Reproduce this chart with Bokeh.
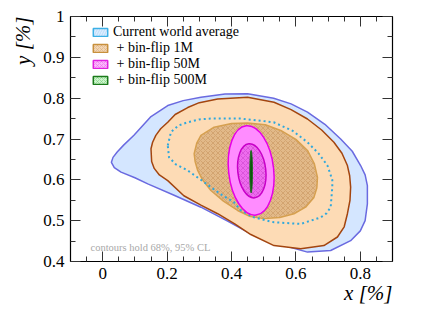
from bokeh.plotting import figure
from bokeh.models import Range1d, LinearAxis, FixedTicker, Label, Legend, LegendItem, Title
from bokeh.embed import file_html
from bokeh.resources import INLINE

# ---------------- data ----------------
# Current world average, 95% CL contour
wa95_x = [0.027, 0.036, 0.057, 0.100, 0.140, 0.220, 0.305, 0.385, 0.460, 0.515, 0.563, 0.636, 0.708,
          0.770, 0.800, 0.815, 0.822, 0.822, 0.815, 0.801, 0.775, 0.739, 0.690, 0.636, 0.585, 0.531,
          0.450, 0.380, 0.305, 0.250, 0.202, 0.150, 0.097, 0.065, 0.045, 0.032]
wa95_y = [0.643, 0.630, 0.619, 0.605, 0.590, 0.563, 0.533, 0.500, 0.468, 0.450, 0.439, 0.423, 0.427,
          0.451, 0.475, 0.500, 0.541, 0.586, 0.612, 0.635, 0.670, 0.700, 0.736, 0.766, 0.786, 0.800,
          0.811, 0.810, 0.802, 0.794, 0.782, 0.755, 0.709, 0.685, 0.668, 0.655]
# Current world average, 68% CL contour (dotted)
wa68_x = [0.202, 0.212, 0.235, 0.264, 0.300, 0.336, 0.429, 0.531, 0.590, 0.636, 0.670, 0.698, 0.713,
          0.713, 0.708, 0.695, 0.677, 0.615, 0.532, 0.470, 0.429, 0.408, 0.370, 0.336, 0.300, 0.264,
          0.227, 0.206, 0.202]
wa68_y = [0.684, 0.717, 0.733, 0.741, 0.748, 0.750, 0.750, 0.741, 0.720, 0.692, 0.665, 0.635, 0.600,
          0.582, 0.533, 0.518, 0.508, 0.492, 0.496, 0.508, 0.525, 0.545, 0.563, 0.582, 0.603, 0.623,
          0.638, 0.655, 0.684]
# + bin-flip 1M, 95% CL
bf1m95_x = [0.150, 0.152, 0.160, 0.176, 0.202, 0.252, 0.305, 0.357, 0.410, 0.460, 0.532, 0.615, 0.687,
            0.729, 0.750, 0.760, 0.768, 0.770, 0.767, 0.760, 0.743, 0.718, 0.680, 0.636, 0.585, 0.532,
            0.450, 0.357, 0.300, 0.264, 0.225, 0.202, 0.180, 0.165, 0.155]
bf1m95_y = [0.676, 0.645, 0.628, 0.612, 0.598, 0.561, 0.538, 0.517, 0.492, 0.466, 0.439, 0.431, 0.439,
            0.460, 0.485, 0.517, 0.550, 0.582, 0.610, 0.635, 0.665, 0.692, 0.722, 0.749, 0.772, 0.790,
            0.802, 0.798, 0.789, 0.777, 0.760, 0.741, 0.725, 0.709, 0.692]
# + bin-flip 1M, 68% CL
bf1m68_x = [0.284, 0.292, 0.305, 0.346, 0.400, 0.450, 0.505, 0.553, 0.600, 0.636, 0.657, 0.667, 0.665,
            0.656, 0.630, 0.594, 0.550, 0.501, 0.455, 0.419, 0.375, 0.336, 0.310, 0.295, 0.287]
bf1m68_y = [0.664, 0.690, 0.709, 0.729, 0.738, 0.739, 0.735, 0.721, 0.699, 0.672, 0.640, 0.606, 0.580,
            0.557, 0.533, 0.517, 0.508, 0.505, 0.511, 0.525, 0.548, 0.574, 0.600, 0.623, 0.645]
# + bin-flip 50M, 95% / 68% CL (ellipses): centre, full widths, full heights, tilt [rad]
bf50m_cx = [0.461, 0.463]
bf50m_cy = [0.623, 0.622]
bf50m_w = [0.140, 0.087]
bf50m_h = [0.220, 0.133]
bf50m_tilt = [0.11, 0.11]
# + bin-flip 500M (ellipse)
bf500m_cx = [0.461]
bf500m_cy = [0.620]
bf500m_w = [0.008]
bf500m_h = [0.104]

x_ticks = [0.0, 0.2, 0.4, 0.6, 0.8]
x_tick_labels = ["0", "0.2", "0.4", "0.6", "0.8"]
x_minor = [round(-0.1 + 0.05 * i, 2) for i in range(21)]
y_ticks = [0.4, 0.5, 0.6, 0.7, 0.8, 0.9, 1.0]
y_tick_labels = ["0.4", "0.5", "0.6", "0.7", "0.8", "0.9", "1"]
y_minor = [round(0.4 + 0.05 * i, 2) for i in range(13)]

x_title = "x [%]"
y_title = "y [%]"
legend_labels = ["Current world average", "\u00a0+ bin-flip 1M", "\u00a0+ bin-flip 50M", "\u00a0+ bin-flip 500M"]
note_text = "contours hold 68%, 95% CL"

# ---------------- figure ----------------
SERIF = "Liberation Serif"
p = figure(width=436, height=315, x_range=Range1d(-0.1, 0.9), y_range=Range1d(0.4, 1.0),
           output_backend="svg", toolbar_location=None,
           min_border_left=70, min_border_right=44, min_border_top=16, min_border_bottom=54)
p.grid.visible = False
p.outline_line_color = "black"
p.outline_line_width = 1.2
p.background_fill_color = "white"
p.border_fill_color = "white"

p.add_layout(LinearAxis(), "above")
p.add_layout(LinearAxis(), "right")

for ax in p.xaxis:
    ax.ticker = FixedTicker(ticks=x_ticks, minor_ticks=x_minor)
    ax.major_label_overrides = dict(zip(x_ticks, x_tick_labels))
for ax in p.yaxis:
    ax.ticker = FixedTicker(ticks=y_ticks, minor_ticks=y_minor)
    ax.major_label_overrides = dict(zip(y_ticks, y_tick_labels))
for ax in p.axis:
    ax.major_tick_in = 10
    ax.major_tick_out = 0
    ax.minor_tick_in = 5
    ax.minor_tick_out = 0
    ax.axis_line_color = "black"
    ax.major_tick_line_color = "#333333"
    ax.minor_tick_line_color = "#333333"
    ax.major_label_text_font = SERIF
    ax.major_label_text_font_size = "17px"
    ax.major_label_text_color = "black"
    ax.major_label_standoff = 6
p.above[0].major_label_overrides = {t: "" for t in x_ticks}
p.above[0].major_label_standoff = 0
p.right[0].major_label_overrides = {t: "" for t in y_ticks}
p.right[0].major_label_standoff = 0

# axis titles, right/top aligned as in the reference
p.add_layout(Title(text=x_title, align="right", text_font=SERIF, text_font_size="21px",
                   text_font_style="italic", text_color="black", standoff=-6), "below")
p.add_layout(Title(text=y_title, align="right", text_font=SERIF, text_font_size="21px",
                   text_font_style="italic", text_color="black", standoff=11), "left")

# ---------------- contours ----------------
p.patch(wa95_x, wa95_y, fill_color="#d4e6ff", line_color="#6a6ae0", line_width=1.5)
p.patch(bf1m95_x, bf1m95_y, fill_color="#fddbb5", line_color="#a3450f", line_width=1.5)
p.patch(bf1m68_x, bf1m68_y, fill_color="#e2b989", hatch_pattern="x", hatch_color="#c89660",
        hatch_scale=5, hatch_weight=0.6, line_color="#d6a050", line_width=1.5)
p.line(wa68_x, wa68_y, line_color="#30a8dc", line_width=2, line_dash="2 3")
p.ellipse(x=bf50m_cx[:1], y=bf50m_cy[:1], width=bf50m_w[:1], height=bf50m_h[:1], angle=bf50m_tilt[:1],
          fill_color="#ff8cff", line_color="#e600e6", line_width=1.5)
p.ellipse(x=bf50m_cx[1:], y=bf50m_cy[1:], width=bf50m_w[1:], height=bf50m_h[1:], angle=bf50m_tilt[1:],
          fill_color="#ee6cee", hatch_pattern="x", hatch_color="#cc44cc", hatch_scale=5, hatch_weight=0.6,
          line_color="#c800c8", line_width=1.5)
p.ellipse(x=bf500m_cx, y=bf500m_cy, width=bf500m_w, height=bf500m_h,
          fill_color="#0a550a", line_color="#1d6d1d", line_width=1)

# ---------------- legend (icon styles; renderers hold one empty point) ----------------
nan = float("nan")
r_leg = [
    p.patch([nan], [nan], fill_color="#dcecff", hatch_pattern="/", hatch_color="#a8d4f4", hatch_scale=5,
            hatch_weight=0.6, line_color="#3cb0e6", line_width=1.5),
    p.patch([nan], [nan], fill_color="#f3d6b4", hatch_pattern="x", hatch_color="#d8ae80", hatch_scale=4,
            hatch_weight=0.6, line_color="#c8903c", line_width=1.5),
    p.patch([nan], [nan], fill_color="#fbb8fb", hatch_pattern="x", hatch_color="#ee66ee", hatch_scale=4,
            hatch_weight=0.6, line_color="#e020e0", line_width=1.5),
    p.patch([nan], [nan], fill_color="#cdf5cd", hatch_pattern="x", hatch_color="#7cd07c", hatch_scale=4,
            hatch_weight=0.6, line_color="#1a7a1a", line_width=1.5),
]
legend = Legend(items=[LegendItem(label=l, renderers=[r]) for l, r in zip(legend_labels, r_leg)],
                location=(21, 173), padding=0, margin=0, spacing=0,
                glyph_width=18, glyph_height=10, label_height=12, label_standoff=4,
                label_text_font=SERIF, label_text_font_size="14px", label_text_color="black",
                border_line_color=None, background_fill_alpha=0)
p.add_layout(legend, "center")

# ---------------- note ----------------
p.add_layout(Label(x=-0.1, y=0.4, x_offset=20, y_offset=14, text=note_text, text_font=SERIF,
                   text_font_size="10.5px", text_color="#a8a8a8", text_baseline="alphabetic"))

open("out.html", "w").write(file_html(p, INLINE))
